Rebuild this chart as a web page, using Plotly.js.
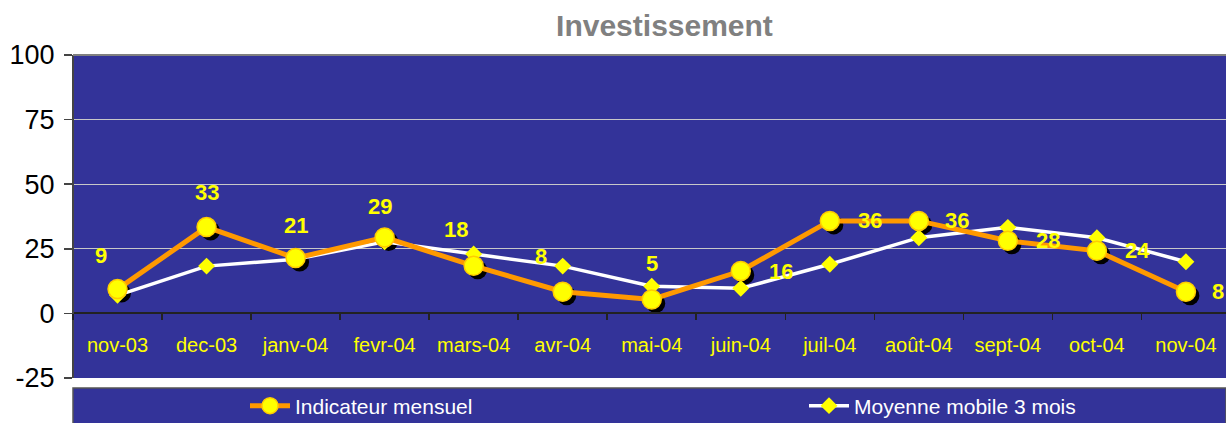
<!DOCTYPE html>
<html>
<head>
<meta charset="utf-8">
<script src="https://cdn.plot.ly/plotly-3.0.1.min.js"></script>
<style>html,body{margin:0;padding:0;background:#fff;}#chart{width:1226px;height:423px;}</style>
</head>
<body>
<div id="chart"></div>
<script>
// ---- data ----
const months = ['nov-03','dec-03','janv-04','fevr-04','mars-04','avr-04','mai-04','juin-04','juil-04','août-04','sept-04','oct-04','nov-04'];
const indicateur = [9.4, 33.4, 21.4, 29.4, 18.4, 8.4, 5.4, 16.4, 35.8, 35.8, 28.1, 24.2, 8.4];
const moyenne = [7, 18.3, 21, 27.7, 23, 18.3, 10.5, 9.7, 19, 29.3, 33.3, 29.3, 20];
const yTickVals = [-25, 0, 25, 50, 75, 100];
const seriesNames = ['Indicateur mensuel', 'Moyenne mobile 3 mois'];
const chartTitle = 'Investissement';

// ---- style config ----
const FONT = 'Arial, "Liberation Sans", sans-serif';
const YMIN = -25, YMAX = 100;
const XR = [-0.5, 12.45];
const plotW = 1226 - 73, plotH = 323;
const pxPerCat = plotW / (XR[1] - XR[0]);
const pxPerUnit = plotH / (YMAX - YMIN);
const shadowDx = 4, shadowDy = 4;
// label placement per point: [xshift, yshift, xanchor]
const labelPlace = [
  [-17, 34, 'center'], [0, 35, 'center'], [0, 33, 'center'], [-5, 31, 'center'],
  [-18, 36, 'center'], [-22, 35, 'center'], [0, 36, 'center'],
  [26, 0, 'left'], [26, 0, 'left'], [24, 0, 'left'], [26, 0, 'left'], [26, 0, 'left'], [24, 0, 'left']
];

const shadow = {
  x: months, y: indicateur, xaxis: 'x', yaxis: 'y',
  type: 'scatter', mode: 'markers',
  marker: {color: '#000', size: 19},
  showlegend: false, hoverinfo: 'skip'
};
const traceMA = {
  x: months, y: moyenne, xaxis: 'x2', yaxis: 'y2',
  type: 'scatter', mode: 'lines+markers', name: seriesNames[1],
  line: {color: '#FFFFFF', width: 3.5},
  marker: {symbol: 'diamond', color: '#FFFF00', size: 13},
  legend: 'legend2'
};
const traceInd = {
  x: months, y: indicateur, xaxis: 'x2', yaxis: 'y2',
  type: 'scatter', mode: 'lines+markers', name: seriesNames[0],
  line: {color: '#FF9900', width: 5},
  marker: {symbol: 'circle', color: '#FFFF00', size: 19, line: {color: '#FFCC00', width: 1.5}},
  legend: 'legend'
};

const annotations = months.map((m, i) => ({
  x: m, y: indicateur[i], xref: 'x2', yref: 'y2',
  text: String(Math.round(indicateur[i])),
  showarrow: false,
  xshift: labelPlace[i][0], yshift: labelPlace[i][1], xanchor: labelPlace[i][2], yanchor: 'middle',
  font: {family: FONT, size: 22, color: '#FFFF00', weight: 'bold'}
}));

const legendCommon = {
  orientation: 'h', xanchor: 'left', yanchor: 'middle',
  y: (378 - 406) / plotH,
  itemwidth: 40,
  bgcolor: 'rgba(0,0,0,0)',
  borderwidth: 0,
  font: {family: FONT, size: 21, color: '#FFFFFF'}
};

const layout = {
  width: 1226, height: 423,
  margin: {l: 73, r: 0, t: 55, b: 45, pad: 0, autoexpand: false},
  paper_bgcolor: '#FFFFFF',
  plot_bgcolor: '#333399',
  font: {family: FONT},
  title: {
    text: chartTitle,
    font: {family: FONT, size: 30, color: '#808080', weight: 'bold'},
    x: 0.513, xref: 'paper', xanchor: 'center',
    y: 1 - 25 / 423, yref: 'container', yanchor: 'middle'
  },
  xaxis: {
    type: 'category', visible: false,
    range: [XR[0] - shadowDx / pxPerCat, XR[1] - shadowDx / pxPerCat], fixedrange: true
  },
  yaxis: {
    visible: false,
    range: [YMIN + shadowDy / pxPerUnit, YMAX + shadowDy / pxPerUnit], fixedrange: true
  },
  xaxis2: {
    type: 'category', overlaying: 'x', anchor: 'free',
    position: (0 - YMIN) / (YMAX - YMIN),
    range: XR, fixedrange: true,
    tickson: 'boundaries', ticks: 'outside', ticklen: 6, tickwidth: 1.5, tickcolor: '#222',
    showline: true, linecolor: '#222', linewidth: 2,
    showgrid: false, zeroline: false,
    tickfont: {family: FONT, size: 20, color: '#FFFF00'},
    ticklabelstandoff: 14
  },
  yaxis2: {
    overlaying: 'y', anchor: 'free', position: 0, side: 'left',
    range: [YMIN, YMAX], fixedrange: true,
    tickvals: yTickVals, ticktext: yTickVals.map(String),
    ticks: 'outside', ticklen: 8, tickwidth: 1.5, tickcolor: '#444',
    showline: true, linecolor: '#444', linewidth: 2,
    showgrid: true, gridcolor: '#C8C8C8', gridwidth: 1.2,
    zeroline: false,
    tickfont: {family: FONT, size: 27, color: '#000'},
    ticklabelstandoff: 4
  },
  showlegend: true,
  legend: Object.assign({}, legendCommon, {x: (245 - 73) / plotW}),
  legend2: Object.assign({}, legendCommon, {x: (804 - 73) / plotW}),
  shapes: [
    {type: 'rect', xref: 'paper', yref: 'paper', x0: 0, x1: 1,
     y0: (378 - 388) / plotH, y1: (378 - 426) / plotH,
     fillcolor: '#333399', line: {color: '#555555', width: 1.5}, layer: 'below'},
    {type: 'line', xref: 'paper', yref: 'paper', x0: 0, x1: 1, y0: 1, y1: 1,
     line: {color: '#808080', width: 2}}
  ],
  annotations: annotations
};

Plotly.newPlot('chart', [shadow, traceMA, traceInd], layout, {displayModeBar: false, staticPlot: true});
</script>
</body>
</html>
